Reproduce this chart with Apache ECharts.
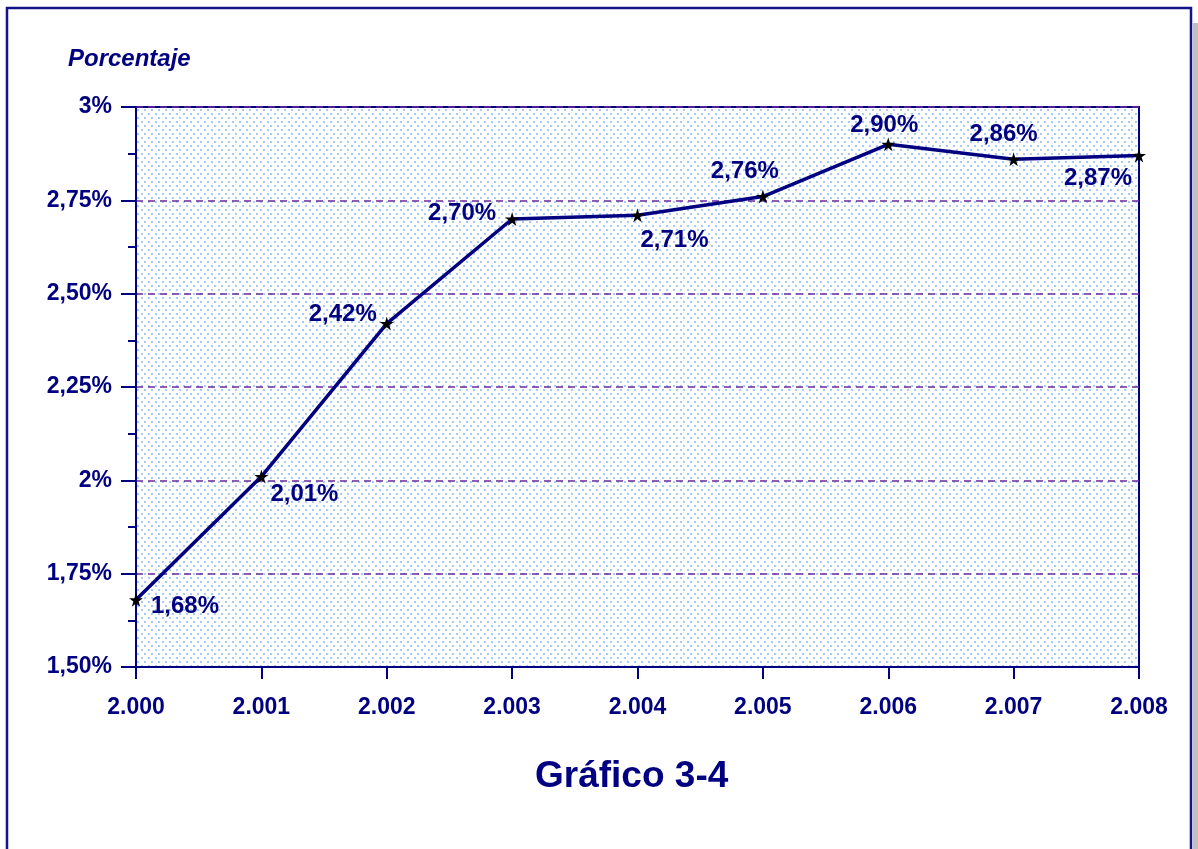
<!DOCTYPE html>
<html>
<head>
<meta charset="utf-8">
<script src="https://cdn.jsdelivr.net/npm/echarts@6/dist/echarts.min.js"></script>
<style>
html,body{margin:0;padding:0;background:#fff;}
#c{width:1198px;height:849px;}
</style>
</head>
<body>
<div id="c"></div>
<script>
// ---- data ----
var years = ['2.000','2.001','2.002','2.003','2.004','2.005','2.006','2.007','2.008'];
var values = [1.68, 2.01, 2.42, 2.70, 2.71, 2.76, 2.90, 2.86, 2.87];
var yTickLabels = {'1.5':'1,50%','1.75':'1,75%','2':'2%','2.25':'2,25%','2.5':'2,50%','2.75':'2,75%','3':'3%'};
var titleText = 'Gráfico 3-4';
var yAxisName = 'Porcentaje';

// label placement per point (style only)
var labelPlace = [
  {position:'right', distance:8, offset:[0,7]},
  {position:'right', distance:2, offset:[0,18]},
  {position:'left', distance:3, offset:[0,-9]},
  {position:'left', distance:9, offset:[0,-6]},
  {position:'right', distance:0, offset:[-4,25]},
  {position:'top', distance:6, offset:[-18,0]},
  {position:'top', distance:0, offset:[-4,0]},
  {position:'top', distance:6, offset:[-10,0]},
  {position:'left', distance:0, offset:[0,23]}
];

var NAVY = '#000080';

// dotted background pattern
var pc = document.createElement('canvas');
pc.width = 7; pc.height = 8;
var pctx = pc.getContext('2d');
pctx.fillStyle = '#ffffff';
pctx.fillRect(0,0,7,8);
pctx.fillStyle = '#a6cbf6';
pctx.fillRect(1,1,2,2);
pctx.fillRect(4,5,2,2);

var star = 'path://M50,0 L61,35 L98,35 L68,57 L79,91 L50,70 L21,91 L32,57 L2,35 L39,35 Z';

var seriesData = values.map(function(v,i){
  return {value:v, label:{position:labelPlace[i].position, distance:labelPlace[i].distance, offset:labelPlace[i].offset}};
});

var chart = echarts.init(document.getElementById('c'), null, {renderer:'canvas'});
chart.setOption({
  animation:false,
  backgroundColor:'#ffffff',
  title:{
    text:titleText,
    left:530, top:753,
    textStyle:{fontFamily:'Liberation Sans', fontWeight:'bold', fontSize:37, color:NAVY}
  },
  graphic:[
    {type:'rect', z:-1, shape:{x:1193, y:23, width:6, height:900}, style:{fill:'#c0c0c0'}},
    {type:'rect', z:10, shape:{x:7, y:8, width:1184, height:900}, style:{fill:null, stroke:'#14148a', lineWidth:2.5}},
    {type:'text', left:68, top:47, style:{text:yAxisName, fill:NAVY, font:'italic bold 24px "Liberation Sans"'}}
  ],
  grid:{
    left:136, right:59, top:107, bottom:182,
    show:true,
    backgroundColor:{image:pc, repeat:'repeat'},
    borderColor:NAVY, borderWidth:2
  },
  xAxis:{
    type:'category',
    data:years,
    boundaryGap:false,
    axisLine:{lineStyle:{color:NAVY, width:2}},
    axisTick:{show:true, inside:false, length:12, alignWithLabel:true, lineStyle:{color:NAVY, width:2}},
    axisLabel:{margin:29, color:NAVY, fontFamily:'Liberation Sans', fontWeight:'bold', fontSize:23},
    splitLine:{show:false}
  },
  yAxis:{
    type:'value',
    min:1.5, max:3, interval:0.25,
    axisLine:{show:true, lineStyle:{color:NAVY, width:2}},
    axisTick:{show:true, length:15, lineStyle:{color:NAVY, width:2}},
    minorTick:{show:true, splitNumber:2, length:8, lineStyle:{color:NAVY, width:2}},
    axisLabel:{
      margin:24, color:NAVY, fontFamily:'Liberation Sans', fontWeight:'bold', fontSize:23,
      formatter:function(v){ var k = String(+v.toFixed(2)); return yTickLabels[k] !== undefined ? yTickLabels[k] : ''; }
    },
    splitLine:{show:true, lineStyle:{color:'#6a2aa0', width:1.5, type:[7,5]}}
  },
  series:[{
    type:'line',
    data:seriesData,
    lineStyle:{color:NAVY, width:3.5},
    symbol:star,
    symbolSize:14,
    itemStyle:{color:'#000000'},
    z:5,
    label:{
      show:true,
      color:NAVY,
      fontFamily:'Liberation Sans', fontWeight:'bold', fontSize:24,
      formatter:function(p){ return p.value.toFixed(2).replace('.',',') + '%'; }
    }
  }]
});
</script>
</body>
</html>
